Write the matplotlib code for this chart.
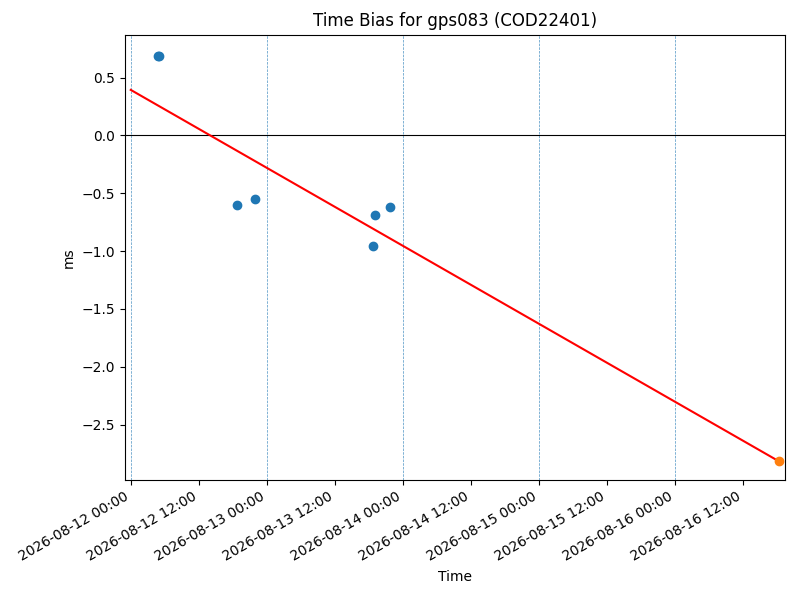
import matplotlib
matplotlib.use("Agg")
import matplotlib.pyplot as plt
import matplotlib.dates as mdates
import pandas as pd

# Data (times of measurements and bias in ms)
obs_times = ["2026-08-12 04:45", "2026-08-12 05:00", "2026-08-12 18:42", "2026-08-12 21:56",
             "2026-08-13 18:48", "2026-08-13 19:08", "2026-08-13 21:46"]
obs_values = [0.685, 0.69, -0.60, -0.552, -0.958, -0.69, -0.618]
pred_time = ["2026-08-16 18:24"]
pred_value = [-2.817]
trend_times = ["2026-08-12 00:00", "2026-08-16 18:24"]
trend_values = [0.393, -2.817]
day_lines = ["2026-08-12", "2026-08-13", "2026-08-14", "2026-08-15", "2026-08-16"]
xlim_times = ["2026-08-11 22:57", "2026-08-16 19:25"]

fig, ax = plt.subplots(figsize=(8, 6), dpi=100)
fig.subplots_adjust(left=0.156, right=0.981, top=0.942, bottom=0.2)

for d in day_lines:
    ax.axvline(pd.Timestamp(d), color="tab:blue", linestyle="--", linewidth=0.5, alpha=0.8)
ax.axhline(0, color="black", linewidth=0.8)

ax.plot(pd.to_datetime(trend_times), trend_values, color="red")
ax.scatter(pd.to_datetime(obs_times), obs_values, color="tab:blue", zorder=3)
ax.scatter(pd.to_datetime(pred_time), pred_value, color="tab:orange", zorder=3)

ax.set_xlim(pd.to_datetime(xlim_times))
ax.set_ylim(-2.978, 0.869)
ax.xaxis.set_major_locator(mdates.HourLocator(byhour=[0, 12]))
ax.xaxis.set_major_formatter(mdates.DateFormatter("%Y-%m-%d %H:%M"))
ax.set_title("Time Bias for gps083 (COD22401)")
ax.set_xlabel("Time")
ax.set_ylabel("ms")
fig.autofmt_xdate()
fig.subplots_adjust(left=0.156, right=0.981, top=0.942, bottom=0.2)

fig.savefig("out.png", dpi=100)
